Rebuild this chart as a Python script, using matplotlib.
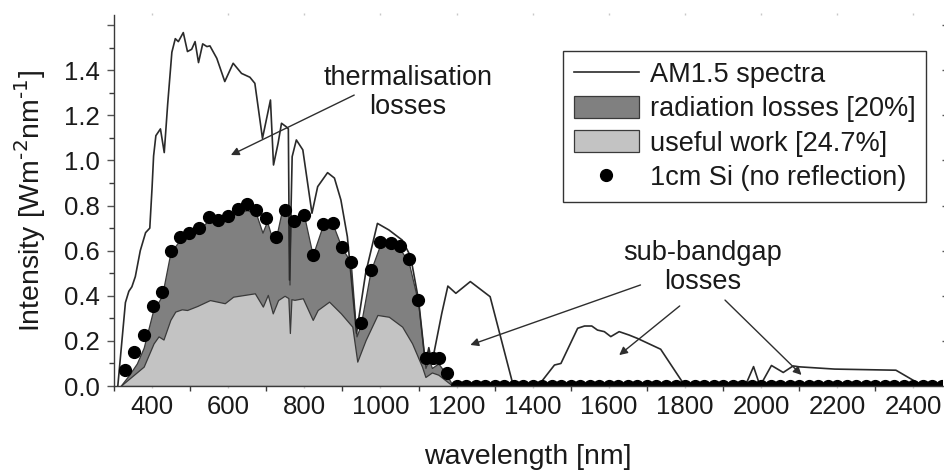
import numpy as np
import matplotlib
matplotlib.use("Agg")
import matplotlib.pyplot as plt

plt.rcParams['font.family'] = ['Liberation Sans', 'DejaVu Sans']

# AM1.5 spectrum
am_nm = [310, 330, 339, 347, 356, 369, 383, 394, 400, 404, 410, 422, 432, 441, 452, 461,
         469, 482, 493, 504, 513, 522, 533, 544, 552, 570, 591, 613, 635, 657, 670, 690,
         702, 711, 719, 731, 740, 752, 758, 761, 768, 779, 796, 820, 835, 861, 879, 896,
         913, 937, 961, 992, 1022, 1057, 1079, 1100, 1118, 1127, 1135, 1161, 1177, 1198,
         1236, 1288, 1349, 1414, 1457, 1474, 1518, 1536, 1555, 1570, 1588, 1605, 1627,
         1653, 1675, 1736, 1800, 1958, 1980, 1997, 2027, 2058, 2084, 2100, 2193, 2354,
         2415, 2475]
am_val = [0.0, 0.37, 0.42, 0.44, 0.485, 0.60, 0.68, 0.70, 0.88, 1.02, 1.11, 1.14, 1.035,
          1.25, 1.48, 1.54, 1.527, 1.567, 1.483, 1.493, 1.527, 1.434, 1.517, 1.505, 1.508,
          1.453, 1.35, 1.431, 1.386, 1.369, 1.342, 1.098, 1.195, 1.268, 0.98, 1.076, 1.165,
          1.15, 1.14, 0.47, 1.017, 1.091, 1.047, 0.766, 0.884, 0.946, 0.922, 0.825, 0.662,
          0.234, 0.50, 0.721, 0.692, 0.647, 0.575, 0.381, 0.10, 0.17, 0.10, 0.322, 0.443,
          0.411, 0.463, 0.396, 0.0, 0.0, 0.093, 0.10, 0.256, 0.266, 0.266, 0.248, 0.241,
          0.219, 0.241, 0.226, 0.211, 0.163, 0.0, 0.0, 0.086, 0.0, 0.091, 0.06, 0.089,
          0.085, 0.075, 0.07, 0.01, 0.0]

# top of the radiation losses area
rad_nm = [317, 340, 360, 378, 402, 426, 448, 474, 498, 524, 550, 574, 600, 626, 650, 674,
          690, 702, 718, 726, 740, 750, 758, 761, 764, 774, 800, 822, 848, 874, 899, 922,
          937, 948, 974, 1000, 1026, 1050, 1074, 1099, 1118, 1127, 1135, 1152, 1174, 1190]
rad_val = [0.0, 0.05, 0.10, 0.17, 0.33, 0.40, 0.59, 0.65, 0.67, 0.69, 0.74, 0.73, 0.75,
           0.77, 0.78, 0.76, 0.68, 0.73, 0.64, 0.66, 0.77, 0.78, 0.77, 0.45, 0.76, 0.73,
           0.75, 0.58, 0.71, 0.72, 0.61, 0.55, 0.22, 0.27, 0.51, 0.63, 0.63, 0.61, 0.55,
           0.37, 0.08, 0.12, 0.08, 0.10, 0.05, 0.0]

# top of the useful work area
use_nm = [317, 378, 404, 417, 430, 448, 461, 478, 492, 519, 552, 591, 613, 670, 691, 704,
          717, 731, 748, 758, 762, 766, 774, 796, 822, 835, 865, 896, 926, 939, 961, 992,
          1022, 1057, 1083, 1109, 1118, 1135, 1152, 1190]
use_val = [0.0, 0.086, 0.189, 0.22, 0.206, 0.293, 0.33, 0.34, 0.337, 0.355, 0.381, 0.367,
           0.396, 0.411, 0.352, 0.404, 0.322, 0.381, 0.40, 0.39, 0.235, 0.385, 0.382,
           0.389, 0.293, 0.337, 0.374, 0.322, 0.263, 0.108, 0.204, 0.315, 0.307, 0.263,
           0.189, 0.086, 0.04, 0.06, 0.05, 0.0]

# 1cm Si points
si_nm = [328, 352, 378, 403, 426, 450, 474, 498, 524, 550, 574, 600, 626, 650, 674, 698,
         726, 750, 774, 800, 822, 848, 874, 899, 922, 948, 974, 1000, 1027, 1050, 1074,
         1099, 1120, 1137, 1153, 1174] + list(range(1200, 2476, 25))
si_val = [0.071, 0.149, 0.226, 0.355, 0.418, 0.60, 0.659, 0.677, 0.70, 0.748, 0.737, 0.755,
          0.785, 0.807, 0.78, 0.743, 0.659, 0.78, 0.733, 0.756, 0.581, 0.718, 0.721, 0.618,
          0.551, 0.281, 0.514, 0.64, 0.636, 0.62, 0.562, 0.381, 0.123, 0.123, 0.123,
          0.056] + [0.0] * len(range(1200, 2476, 25))

x_ticks = [400, 600, 800, 1000, 1200, 1400, 1600, 1800, 2000, 2200, 2400]
y_ticks = [0.0, 0.2, 0.4, 0.6, 0.8, 1.0, 1.2, 1.4, 1.6]
y_tick_labels = ['0.0', '0.2', '0.4', '0.6', '0.8', '1.0', '1.2', '1.4', '']

fig = plt.figure(figsize=(9.45, 4.76), dpi=100)
ax = fig.add_axes([114 / 945, 1 - 386 / 476, (942 - 114) / 945, (386 - 15) / 476])

ax.fill_between(rad_nm, rad_val, 0, facecolor='#808080', edgecolor='#3a3a3a', lw=0.9,
                label='radiation losses [20%]')
ax.fill_between(use_nm, use_val, 0, facecolor='#c3c3c3', edgecolor='#3a3a3a', lw=0.9,
                label='useful work [24.7%]')
ax.plot(am_nm, am_val, color='#2a2a2a', lw=1.2, label='AM1.5 spectra')
ax.plot(si_nm, si_val, 'o', color='black', ms=8.5, label='1cm Si (no reflection)')

ax.set_xlim(310, 2475)
ax.set_ylim(0, 1.645)

ax.set_xticks(x_ticks)
ax.set_xticks(np.arange(300, 2476, 100), minor=True)
ax.set_yticks(y_ticks)
ax.set_yticklabels(y_tick_labels)
ax.set_yticks(np.arange(0, 1.55, 0.1), minor=True)

ax.spines['top'].set_visible(False)
ax.spines['right'].set_visible(False)
for s in ['left', 'bottom']:
    ax.spines[s].set_color('#3a3a3a')
    ax.spines[s].set_linewidth(1.0)

ax.tick_params(axis='both', which='major', direction='out', length=6, width=1,
               color='#3a3a3a', labelsize=18.5, labelcolor='#1a1a1a', pad=5)
ax.tick_params(axis='both', which='minor', direction='out', length=3.5, width=1,
               color='#3a3a3a')
ax.tick_params(axis='y', which='major', right=True, length=5, color='#555555')
ax.tick_params(axis='x', which='major', top=True, length=1.5, color='#c8c8c8')

ax.set_xlabel('wavelength [nm]', fontsize=20.5, labelpad=18, color='#1a1a1a')
ax.set_ylabel(r'Intensity [Wm$^{\text{-2}}$nm$^{\text{-1}}$]', fontsize=20.5,
              labelpad=12, color='#1a1a1a')

arrow = dict(arrowstyle='-|>', color='#2e2e2e', lw=1.0, mutation_scale=12,
             shrinkA=0, shrinkB=0)
ax.text(1072, 1.30, 'thermalisation\nlosses', fontsize=19.5, ha='center', va='center',
        linespacing=1.15, color='#1a1a1a')
ax.annotate('', xy=(607, 1.024), xytext=(931, 1.29), arrowprops=arrow)

ax.text(1847, 0.525, 'sub-bandgap\nlosses', fontsize=19.5, ha='center', va='center',
        linespacing=1.15, color='#1a1a1a')
ax.annotate('', xy=(1236, 0.182), xytext=(1683, 0.448), arrowprops=arrow)
ax.annotate('', xy=(1627, 0.137), xytext=(1786, 0.355), arrowprops=arrow)
ax.annotate('', xy=(2106, 0.049), xytext=(1905, 0.381), arrowprops=arrow)

handles, labels = ax.get_legend_handles_labels()
order = [2, 0, 1, 3]
leg = ax.legend([handles[i] for i in order], [labels[i] for i in order],
                loc='upper right', bbox_to_anchor=(926 / 945, 1 - 51 / 476),
                bbox_transform=fig.transFigure, borderaxespad=0, fancybox=False,
                edgecolor='#333333', fontsize=19.5, handlelength=2.4, handleheight=0.85,
                handletextpad=0.4, labelspacing=0.3, borderpad=0.4, framealpha=1)
leg.get_frame().set_linewidth(1.0)
for t in leg.get_texts():
    t.set_color('#1a1a1a')

fig.savefig('out.png', dpi=100)
